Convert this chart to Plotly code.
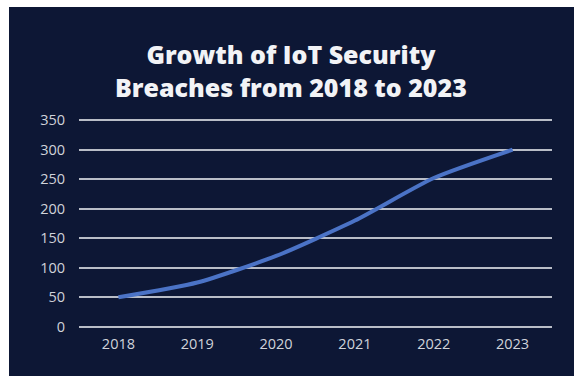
import plotly.graph_objects as go

years = ["2018", "2019", "2020", "2021", "2022", "2023"]
breaches = [50, 75, 120, 180, 252, 300]
y_ticks = [0, 50, 100, 150, 200, 250, 300, 350]
title_lines = ["Growth of IoT Security", "Breaches from 2018 to 2023"]

W, H = 574, 376
ML, MR, MT, MB = 79, 22, 119, 48
PW, PH = W - ML - MR, H - MT - MB

def px_x(p):
    return (p - ML) / PW

def px_y(p):
    return (H - MB - p) / PH

BG = "#0d1735"

fig = go.Figure()
fig.add_trace(go.Scatter(
    x=years, y=breaches, mode="lines",
    line=dict(color="#4b73c6", width=4, shape="spline", smoothing=0.6),
    hoverinfo="skip", showlegend=False,
))

fig.update_layout(
    width=W, height=H,
    margin=dict(l=ML, r=MR, t=MT, b=MB),
    paper_bgcolor=BG, plot_bgcolor=BG,
    showlegend=False,
    xaxis=dict(
        type="category", range=[-0.5, 5.5], showgrid=False, zeroline=False,
        showline=False, ticks="outside", ticklen=3, tickcolor="rgba(0,0,0,0)",
        tickfont=dict(family="Open Sans", size=14.5, color="#d0d3da"),
    ),
    yaxis=dict(
        range=[-2, 352], tickvals=y_ticks, showgrid=True, gridcolor="#b9bdc7",
        gridwidth=2, zeroline=False, showline=False, ticks="outside", ticklen=10,
        tickcolor="rgba(0,0,0,0)",
        tickfont=dict(family="Open Sans", size=14.5, color="#d0d3da"),
    ),
    shapes=[
        dict(type="rect", xref="paper", yref="paper", x0=px_x(-5), x1=px_x(9),
             y0=px_y(H + 5), y1=px_y(-5), fillcolor="white", line=dict(width=0), layer="above"),
        dict(type="rect", xref="paper", yref="paper", x0=px_x(-5), x1=px_x(W + 5),
             y0=px_y(7), y1=px_y(-5), fillcolor="white", line=dict(width=0), layer="above"),
    ],
    annotations=[
        dict(text="<br>".join(title_lines), xref="paper", yref="paper",
             x=px_x(291), y=px_y(71), xanchor="center", yanchor="middle",
             showarrow=False, align="center",
             font=dict(family="Open Sans", size=25, color="#f2f3f6", weight=800)),
    ],
)

fig.write_html("out.html")
